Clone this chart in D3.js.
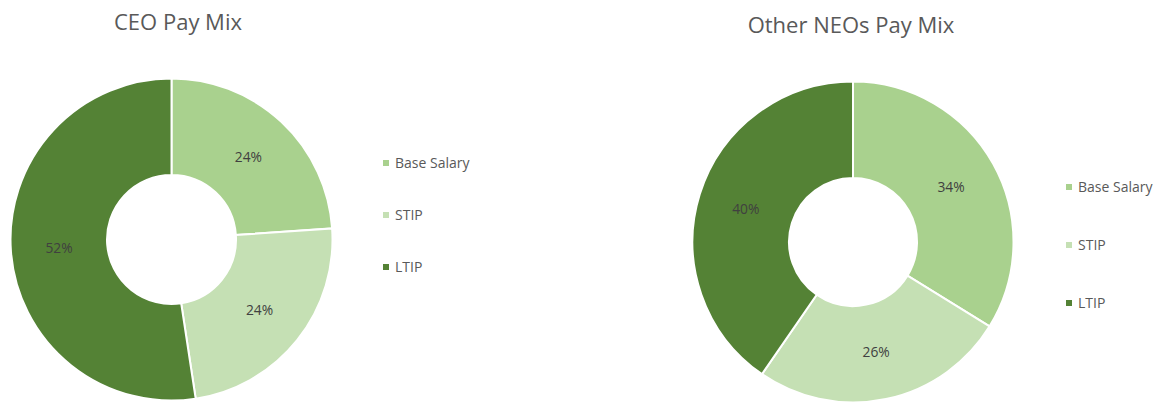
<!DOCTYPE html>
<html><head><meta charset="utf-8">
<script src="https://cdn.jsdelivr.net/npm/d3@7"></script>
<style>body{margin:0;background:#fff}svg{display:block}</style>
</head><body>
<script>
const categories = ["Base Salary", "STIP", "LTIP"];
const ceoValues = [23.9, 23.7, 52.4];
const neoValues = [33.8, 25.8, 40.4];
const chartTitles = ["CEO Pay Mix", "Other NEOs Pay Mix"];
const colors = ["#A9D18E", "#C5E0B4", "#548235"];

const W = 1161, H = 402;
const svg = d3.select("body").append("svg").attr("width", W).attr("height", H);
svg.append("rect").attr("width", W).attr("height", H).attr("fill", "#fff");
const font = "'Open Sans', sans-serif";
const color = d3.scaleOrdinal().domain(categories).range(colors);

const charts = [
  {title: chartTitles[0], values: ceoValues, cx: 171.5, cy: 239.5, r: 161, ir: 64.5,
   tx: 178, ty: 30, lx: 383, ltx: 395, ly: [163, 215, 267]},
  {title: chartTitles[1], values: neoValues, cx: 853, cy: 242, r: 160.5, ir: 64,
   tx: 851, ty: 33, lx: 1066, ltx: 1078, ly: [187, 245, 303]}
];

charts.forEach(c => {
  const g = svg.append("g");
  g.append("text").attr("x", c.tx).attr("y", c.ty).attr("text-anchor", "middle")
    .attr("font-family", font).attr("font-size", 22).attr("fill", "#595959").text(c.title);
  const data = categories.map((k, i) => ({key: k, value: c.values[i]}));
  const pie = d3.pie().sort(null).value(d => d.value);
  const arc = d3.arc().innerRadius(c.ir).outerRadius(c.r);
  const arcs = pie(data);
  const pg = g.append("g").attr("transform", `translate(${c.cx},${c.cy})`);
  pg.selectAll("path").data(arcs).join("path")
    .attr("d", arc).attr("fill", d => color(d.data.key))
    .attr("stroke", "#fff").attr("stroke-width", 2);
  pg.selectAll("text").data(arcs).join("text")
    .attr("transform", d => `translate(${arc.centroid(d)})`)
    .attr("text-anchor", "middle").attr("dy", "0.35em")
    .attr("font-family", font).attr("font-size", 13.8).attr("fill", "#404040")
    .text(d => Math.round(d.data.value) + "%");
  const lg = g.append("g");
  categories.forEach((k, i) => {
    lg.append("rect").attr("x", c.lx).attr("y", c.ly[i] - 3).attr("width", 6).attr("height", 6)
      .attr("fill", color(k));
    lg.append("text").attr("x", c.ltx).attr("y", c.ly[i]).attr("dy", "0.35em")
      .attr("font-family", font).attr("font-size", 14).attr("fill", "#595959").text(k);
  });
});
</script>
</body></html>
